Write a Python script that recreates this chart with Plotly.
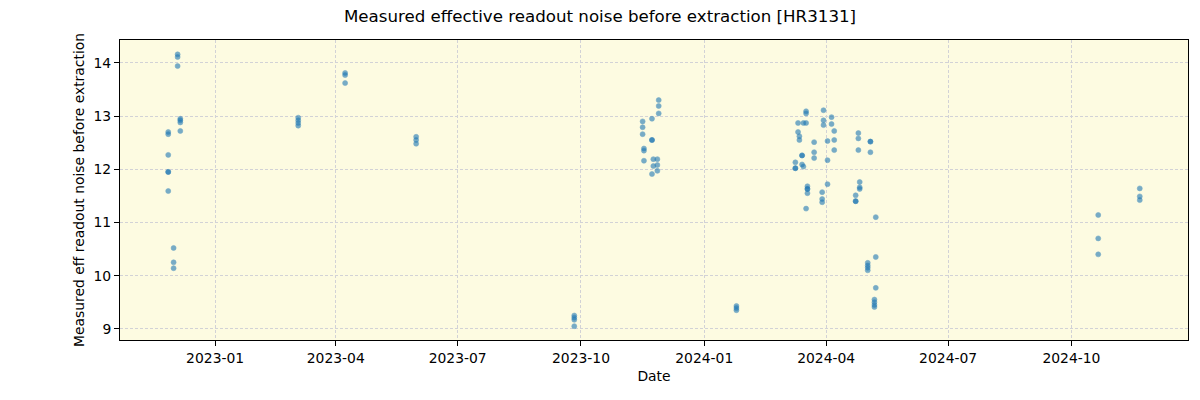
import plotly.graph_objects as go

dates = (
    ["2022-11-27"] * 6
    + ["2022-12-01"] * 3
    + ["2022-12-04"] * 3
    + ["2022-12-06"] * 4
    + ["2023-03-04"] * 4
    + ["2023-04-08"] * 3
    + ["2023-05-31"] * 3
    + ["2023-09-26"] * 4
    + ["2024-01-25"] * 3
    + ["2023-11-16"] * 3 + ["2023-11-17"] * 3
    + ["2023-11-23"] * 4 + ["2023-11-24"] * 2
    + ["2023-11-27"] * 3 + ["2023-11-28"] * 3
    + ["2024-03-09"] * 3
    + ["2024-03-11"] * 2
    + ["2024-03-12"] * 2
    + ["2024-03-14"] * 3
    + ["2024-03-15"] * 2
    + ["2024-03-17"] * 4
    + ["2024-03-18"] * 4
    + ["2024-03-23"] * 3
    + ["2024-03-29"] * 3
    + ["2024-03-30"] * 3
    + ["2024-04-02"] * 3
    + ["2024-04-05"] * 2
    + ["2024-04-07"] * 3
    + ["2024-04-23"] * 3
    + ["2024-04-25"] * 3
    + ["2024-04-26"] * 3
    + ["2024-05-02"] * 4
    + ["2024-05-04"] * 3
    + ["2024-05-07"] * 4
    + ["2024-05-08"] * 3
    + ["2024-10-21"] * 3
    + ["2024-11-21"] * 3
)

values = [
    12.70, 12.66, 12.27, 11.95, 11.95, 11.59,
    10.52, 10.25, 10.14,
    14.16, 14.11, 13.94,
    12.95, 12.92, 12.88, 12.72,
    12.97, 12.92, 12.87, 12.82,
    13.81, 13.77, 13.62,
    12.61, 12.55, 12.48,
    9.25, 9.21, 9.17, 9.05,
    9.43, 9.39, 9.35,
    12.90, 12.79, 12.66, 12.39, 12.35, 12.16,
    12.95, 12.55, 12.55, 11.91, 12.19, 12.06,
    12.19, 12.08, 11.97, 13.30, 13.19, 13.05,
    12.13, 12.02, 12.02,
    12.87, 12.70,
    12.62, 12.55,
    12.26, 12.26, 12.09,
    12.87, 12.05,
    13.09, 13.05, 12.87, 11.26,
    11.68, 11.63, 11.63, 11.55,
    12.51, 12.32, 12.21,
    11.57, 11.44, 11.38,
    13.11, 12.92, 12.83,
    12.53, 12.17, 11.72,
    12.98, 12.85,
    12.72, 12.55, 12.36,
    11.51, 11.40, 11.40,
    12.68, 12.58, 12.36,
    11.76, 11.66, 11.63,
    10.24, 10.19, 10.15, 10.10,
    12.52, 12.52, 12.32,
    9.55, 9.50, 9.45, 9.41,
    11.10, 10.35, 9.77,
    11.14, 10.70, 10.40,
    11.64, 11.49, 11.42,
]

x_tick_vals = ["2023-01-01", "2023-04-01", "2023-07-01", "2023-10-01",
               "2024-01-01", "2024-04-01", "2024-07-01", "2024-10-01"]
x_tick_text = ["2023-01", "2023-04", "2023-07", "2023-10",
               "2024-01", "2024-04", "2024-07", "2024-10"]
y_ticks = [9, 10, 11, 12, 13, 14]

fig = go.Figure()
fig.add_trace(go.Scatter(
    x=dates, y=values, mode="markers",
    marker=dict(size=5, color="#1f77b4", opacity=0.6,
                line=dict(width=0.6, color="#1f77b4")),
    showlegend=False,
))

axis_common = dict(
    showline=True, linecolor="black", linewidth=1, mirror=True,
    ticks="outside", ticklen=5, tickcolor="black", tickwidth=1,
    showgrid=True, gridcolor="#d2d2d6", griddash="3px,2px", gridwidth=0.8,
    zeroline=False,
    tickfont=dict(family="DejaVu Sans", size=13.9, color="black"),
)

fig.update_layout(
    width=1200, height=400,
    margin=dict(l=120, r=12, t=40, b=60),
    paper_bgcolor="white",
    plot_bgcolor="#fdfbe1",
    font=dict(family="DejaVu Sans", size=13.9, color="black"),
    title=dict(text="Measured effective readout noise before extraction [HR3131]",
               x=0.5, xanchor="center", y=0.96, yanchor="middle", yref="container",
               font=dict(size=16.67, family="DejaVu Sans", color="black")),
    xaxis=dict(
        **axis_common,
        type="date",
        range=["2022-10-22", "2024-12-27"],
        tickvals=x_tick_vals, ticktext=x_tick_text,
        title=dict(text="Date", font=dict(size=13.9), standoff=6),
    ),
    yaxis=dict(
        **axis_common,
        range=[8.79, 14.43],
        tickvals=y_ticks, ticktext=[str(t) for t in y_ticks],
        title=dict(text="Measured eff readout noise before extraction", font=dict(size=13.9), standoff=5),
    ),
)

fig.write_html("out.html")
